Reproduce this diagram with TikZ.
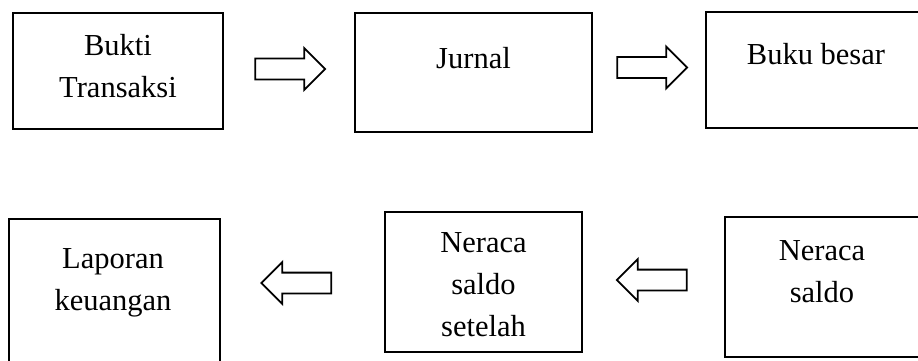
\documentclass[tikz,border=0pt]{standalone}
\usepackage{fontspec}
\setmainfont{Liberation Serif}
\usetikzlibrary{shapes.arrows}
\begin{document}
\begin{tikzpicture}[x=1pt,y=-1pt,
  stage/.style={draw, line width=2.2pt, inner sep=0pt, outer sep=0pt},
  caption/.style={align=center, anchor=base, inner sep=0pt,
    font=\fontsize{30.5}{42}\selectfont},
  flow/.style={single arrow, draw, line width=1.8pt, inner sep=9.5pt, outer sep=0pt,
    minimum height=70pt, minimum width=40pt, single arrow head extend=10.5pt},
  back/.style={flow, shape border rotate=180}]
\clip (0,0) rectangle (918,361);

% upper row: source documents -> journal -> ledger
\node[stage, minimum width=210pt, minimum height=116pt] (b1) at (118,71) {};
\node[stage, minimum width=237pt, minimum height=119pt] (b2) at (473.5,72.5) {};
\node[stage, minimum width=220pt, minimum height=116pt] (b3) at (816,70) {};

% lower row: trial balance -> adjusted trial balance -> financial statements
\node[stage, minimum width=211pt, minimum height=152pt] (b4) at (114.5,295) {};
\node[stage, minimum width=197pt, minimum height=140pt] (b5) at (483.5,282) {};
\node[stage, minimum width=194pt, minimum height=140pt] (b6) at (822,287) {};

% box texts, placed by the baseline of their last line (42pt per line)
\node[caption] (t1) at ([yshift=-84pt]b1.north) {Bukti\\Transaksi};
\node[caption] (t2) at ([yshift=-55pt]b2.north) {Jurnal};
\node[caption] (t3) at ([yshift=-53pt]b3.north) {Buku besar};
\node[caption] (t4) at ([xshift=-1.5pt,yshift=-91pt]b4.north) {Laporan\\keuangan};
\node[caption] (t5) at ([yshift=-124pt]b5.north) {Neraca\\saldo\\setelah};
\node[caption] (t6) at ([yshift=-85pt]b6.north) {Neraca\\saldo};

% block arrows between the stages (anchor sits 5pt towards the tip)
\node[flow] (a1) at (285,69) {};
\node[flow] (a2) at (647,67.5) {};
\node[back] (a3) at (301.5,283) {};
\node[back] (a4) at (657,280) {};
\end{tikzpicture}
\end{document}
